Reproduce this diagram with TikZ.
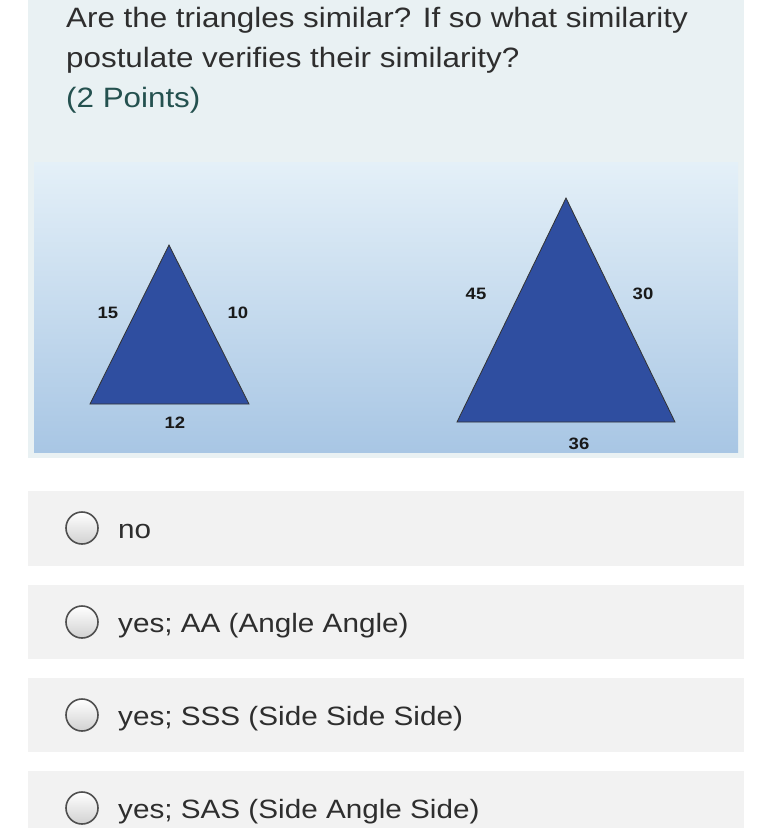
\documentclass[tikz,border=0pt]{standalone}
\usepackage{fontspec}
\setmainfont{Liberation Sans}[FakeStretch=1.12]
\usetikzlibrary{calc}

\definecolor{panelbg}{HTML}{E9F1F3}
\definecolor{optbg}{HTML}{F2F2F2}
\definecolor{txtgrey}{HTML}{2E2E2E}
\definecolor{pointsteal}{HTML}{24514F}
\definecolor{trifill}{HTML}{2F4EA0}
\definecolor{skytop}{HTML}{E4F0F8}
\definecolor{skybot}{HTML}{A8C6E4}
\definecolor{radioedge}{HTML}{4F4F4F}

\tikzset{
  tri/.style={fill=trifill, draw=black!80, line width=0.8pt},
  sidelbl/.style={font=\fontsize{16.5}{19}\selectfont\bfseries, text=black!90, inner sep=0pt},
  titletext/.style={font=\fontsize{28}{34}\selectfont, text=txtgrey, anchor=base west, inner sep=0pt},
  opttext/.style={font=\fontsize{26.5}{32}\selectfont, text=txtgrey, anchor=base west, inner sep=0pt}
}

% one answer row: name, top, bottom, circle y, text
\newcommand{\answer}[5]{
  \fill[optbg] (28,#2) rectangle (744,#3);
  \shade[top color=white, bottom color=black!18, draw=radioedge, line width=1.6pt] (82,#4) circle (16pt);
  \node[opttext] (#1) at (118,#4+10) {#5};}

\begin{document}
\begin{tikzpicture}[x=1pt,y=-1pt]
        \useasboundingbox (0,0) rectangle (772,828);
        \fill[white] (0,0) rectangle (772,828);

        % question panel
        \fill[panelbg] (28,0) rectangle (744,458);
        \node[titletext] (q1) at (66,27) {Are the triangles similar? If so what similarity};
        \node[titletext] (q2) at (66,67) {postulate verifies their similarity?};
        \node[titletext, text=pointsteal] (pts) at (66,107) {(2 Points)};

        % picture
        \shade[top color=skytop, bottom color=skybot] (34,162) rectangle (738,452);

        % small triangle
        \coordinate (sA) at (169,245);
        \coordinate (sB) at (90,404);
        \coordinate (sC) at (249,404);
        \draw[tri] (sA) -- (sB) -- (sC) -- cycle;
        \node[sidelbl] (s15) at (108,313) {15};
        \node[sidelbl] (s10) at (238,313) {10};
        \node[sidelbl] (s12) at (175,423) {12};

        % big triangle
        \coordinate (bA) at (566,198);
        \coordinate (bB) at (457,422);
        \coordinate (bC) at (675,422);
        \draw[tri] (bA) -- (bB) -- (bC) -- cycle;
        \node[sidelbl] (b45) at (476,294) {45};
        \node[sidelbl] (b30) at (643,294) {30};
        \node[sidelbl] (b36) at (579,444) {36};

        % answers
        \answer{a1}{491}{566}{528}{no}
        \answer{a2}{585}{659}{622}{yes; AA (Angle Angle)}
        \answer{a3}{678}{752}{715}{yes; SSS (Side Side Side)}
        \answer{a4}{771}{828}{808}{yes; SAS (Side Angle Side)}

    \end{tikzpicture}
\end{document}
